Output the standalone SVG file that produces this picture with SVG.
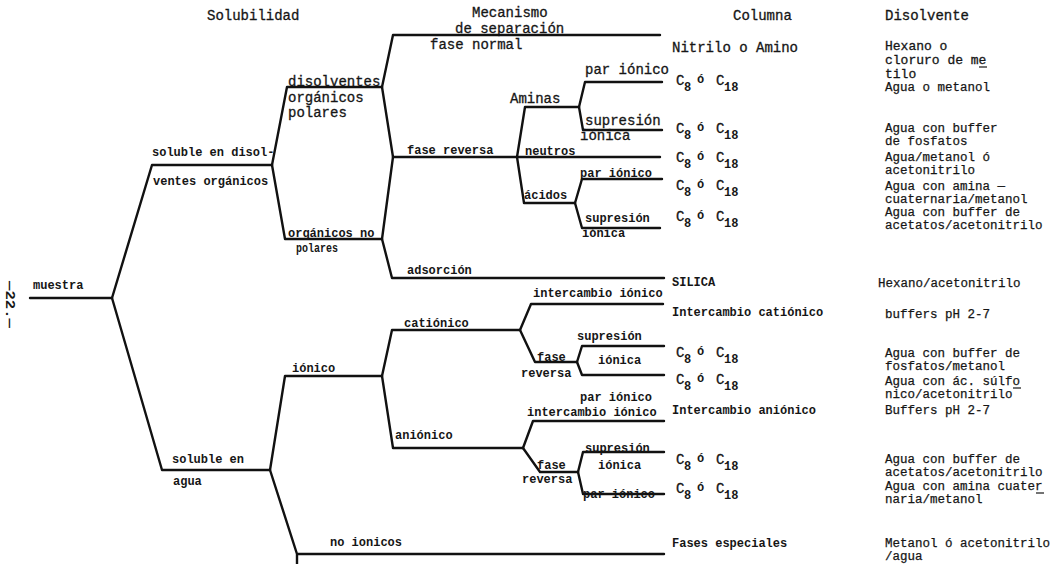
<svg xmlns="http://www.w3.org/2000/svg" width="1052" height="564" viewBox="0 0 1052 564">
  <style>
    text { font-family: "Liberation Mono", "DejaVu Sans Mono", monospace; fill: #161616; }
    .L { font-size: 14px; stroke: #161616; stroke-width: 0.3px; }
    .M { font-size: 13px; stroke: #161616; stroke-width: 0.3px; }
    .S { font-size: 12px; font-weight: bold; }
    .D { font-size: 12.5px; stroke: #161616; stroke-width: 0.25px; }
    .sub { font-size: 12px; font-weight: bold; }
    .edge { fill: none; stroke: #111; stroke-width: 2.4; stroke-linecap: round; stroke-linejoin: round; }
    .mark { stroke: #161616; stroke-width: 1.2; }
  </style>
  <defs>
    <!-- stationary phase "C8 ó C18", origin on the baseline of the first C -->
    <g id="c8c18">
      <text class="L" x="0" y="0">C</text>
      <text class="sub" x="8" y="6">8</text>
      <text class="sub" x="21" y="-2">ó</text>
      <text class="L" x="40" y="0">C</text>
      <text class="sub" x="48" y="6">18</text>
    </g>
  </defs>
  <rect width="1052" height="564" fill="#fff"/>

  <!-- page number -->
  <text class="S" transform="translate(6,281) rotate(90)" textLength="47" lengthAdjust="spacingAndGlyphs">—22.—</text>

  <!-- column headings -->
  <g id="headings">
    <text class="L" x="207" y="20">Solubilidad</text>
    <text class="L" x="472" y="17">Mecanismo</text>
    <text class="L" x="455" y="33">de separación</text>
    <text class="L" x="733" y="20">Columna</text>
    <text class="L" x="885" y="20">Disolvente</text>
  </g>

  <!-- branches of the tree -->
  <g id="connectors">
    <path class="edge" d="M30,298 H112"/>
    <path class="edge" d="M112,298 L152,165 H272"/>
    <path class="edge" d="M112,298 L162,470 H270"/>
    <path class="edge" d="M272,165 L287,87 H382"/>
    <path class="edge" d="M272,165 L285,239 H382"/>
    <path class="edge" d="M382,87 L393,35 H660"/>
    <path class="edge" d="M382,87 L393,157 H517"/>
    <path class="edge" d="M382,239 L393,157"/>
    <path class="edge" d="M382,239 L392,278 H664"/>
    <path class="edge" d="M517,157 L525,107 H579"/>
    <path class="edge" d="M517,157 H660"/>
    <path class="edge" d="M517,157 L524,203 H575"/>
    <path class="edge" d="M579,107 L585,82 H662"/>
    <path class="edge" d="M579,107 L583,130 H662"/>
    <path class="edge" d="M575,203 L582,179 H662"/>
    <path class="edge" d="M575,203 L582,228 H660"/>
    <path class="edge" d="M270,470 L285,376 H382"/>
    <path class="edge" d="M382,376 L392,330 H520"/>
    <path class="edge" d="M382,376 L393,448 H523"/>
    <path class="edge" d="M520,330 L531,304 H663"/>
    <path class="edge" d="M520,330 L535,362 H577"/>
    <path class="edge" d="M577,362 L582,346 H664"/>
    <path class="edge" d="M577,362 L582,375 H664"/>
    <path class="edge" d="M523,448 L533,421 H664"/>
    <path class="edge" d="M523,448 L540,472 H578"/>
    <path class="edge" d="M578,472 L583,452 H664"/>
    <path class="edge" d="M578,472 L583,494 H664"/>
    <path class="edge" d="M270,470 L297,554 H664 M297,554 V566"/>
  </g>

  <!-- solubility -->
  <g id="muestra"><text class="S" x="33" y="289">muestra</text></g>
  <g id="soluble-organicos">
    <text class="S" x="152" y="156">soluble en disol-</text>
    <text class="S" x="153" y="185">ventes orgánicos</text>
  </g>
  <g id="soluble-agua">
    <text class="S" x="172" y="463">soluble en</text>
    <text class="S" x="173" y="485">agua</text>
  </g>
  <g id="polares">
    <text class="L" x="288" y="86">disolventes</text>
    <text class="L" x="288" y="102">orgánicos</text>
    <text class="L" x="288" y="117">polares</text>
  </g>
  <g id="no-polares">
    <text class="S" x="288" y="237">orgánicos no</text>
    <text class="S" x="296" y="252" textLength="42" lengthAdjust="spacingAndGlyphs">polares</text>
  </g>
  <g id="ionico"><text class="S" x="292" y="372">iónico</text></g>
  <g id="no-ionicos"><text class="S" x="330" y="546">no ionicos</text></g>

  <!-- separation mechanism -->
  <g id="fase-normal"><text class="L" x="430" y="49">fase normal</text></g>
  <g id="fase-reversa"><text class="S" x="407" y="154">fase reversa</text></g>
  <g id="adsorcion"><text class="S" x="407" y="274">adsorción</text></g>
  <g id="aminas"><text class="L" x="510" y="103">Aminas</text></g>
  <g id="neutros"><text class="S" x="525" y="155">neutros</text></g>
  <g id="acidos"><text class="S" x="524" y="199">ácidos</text></g>
  <g id="aminas-par"><text class="L" x="585" y="74">par iónico</text></g>
  <g id="aminas-supresion">
    <text class="L" x="585" y="125">supresión</text>
    <text class="L" x="580" y="140">iónica</text>
  </g>
  <g id="acidos-par"><text class="S" x="580" y="177">par iónico</text></g>
  <g id="acidos-supresion">
    <text class="S" x="585" y="222">supresión</text>
    <text class="S" x="582" y="237">iónica</text>
  </g>
  <g id="cationico"><text class="S" x="404" y="327">catiónico</text></g>
  <g id="cat-intercambio"><text class="S" x="533" y="297">intercambio iónico</text></g>
  <g id="cat-fase-reversa">
    <text class="S" x="537" y="361">fase</text>
    <text class="S" x="521" y="377">reversa</text>
  </g>
  <g id="cat-supresion">
    <text class="S" x="577" y="340">supresión</text>
    <text class="S" x="598" y="364">iónica</text>
  </g>
  <g id="cat-par"><text class="S" x="580" y="401">par iónico</text></g>
  <g id="anionico"><text class="S" x="395" y="439">aniónico</text></g>
  <g id="an-intercambio"><text class="S" x="527" y="416">intercambio iónico</text></g>
  <g id="an-fase-reversa">
    <text class="S" x="537" y="469">fase</text>
    <text class="S" x="522" y="483">reversa</text>
  </g>
  <g id="an-supresion">
    <text class="S" x="585" y="452">supresión</text>
    <text class="S" x="598" y="469">iónica</text>
  </g>
  <g id="an-par"><text class="S" x="583" y="498">par iónico</text></g>

  <!-- column -->
  <g id="col-nitrilo"><text class="L" x="672" y="52">Nitrilo o Amino</text></g>
  <g id="col-a"><use href="#c8c18" x="676" y="85"/></g>
  <g id="col-b"><use href="#c8c18" x="676" y="133"/></g>
  <g id="col-c"><use href="#c8c18" x="676" y="162"/></g>
  <g id="col-d"><use href="#c8c18" x="676" y="190"/></g>
  <g id="col-e"><use href="#c8c18" x="676" y="221"/></g>
  <g id="col-silica"><text class="S" x="672" y="286">SILICA</text></g>
  <g id="col-cationico"><text class="S" x="672" y="316">Intercambio catiónico</text></g>
  <g id="col-f"><use href="#c8c18" x="676" y="357"/></g>
  <g id="col-g"><use href="#c8c18" x="676" y="384"/></g>
  <g id="col-anionico"><text class="S" x="672" y="414">Intercambio aniónico</text></g>
  <g id="col-h"><use href="#c8c18" x="676" y="464"/></g>
  <g id="col-i"><use href="#c8c18" x="676" y="493"/></g>
  <g id="col-especiales"><text class="S" x="672" y="547">Fases especiales</text></g>

  <!-- solvent -->
  <g id="sol-hexano">
    <text class="M" x="885" y="50">Hexano o</text>
    <text class="M" x="885" y="64">cloruro de me</text>
    <line class="mark" x1="979" y1="67" x2="987" y2="67"/>
    <text class="M" x="885" y="78">tilo</text>
  </g>
  <g id="sol-a"><text class="D" x="885" y="91">Agua o metanol</text></g>
  <g id="sol-b">
    <text class="D" x="885" y="132">Agua con buffer</text>
    <text class="D" x="885" y="145">de fosfatos</text>
  </g>
  <g id="sol-c">
    <text class="D" x="885" y="161">Agua/metanol ó</text>
    <text class="D" x="885" y="174">acetonitrilo</text>
  </g>
  <g id="sol-d">
    <text class="D" x="885" y="190">Agua con amina —</text>
    <text class="D" x="885" y="203">cuaternaria/metanol</text>
  </g>
  <g id="sol-e">
    <text class="D" x="885" y="216">Agua con buffer de</text>
    <text class="D" x="885" y="229">acetatos/acetonitrilo</text>
  </g>
  <g id="sol-silica"><text class="D" x="878" y="287">Hexano/acetonitrilo</text></g>
  <g id="sol-cationico"><text class="D" x="885" y="318">buffers pH 2-7</text></g>
  <g id="sol-f">
    <text class="D" x="885" y="357">Agua con buffer de</text>
    <text class="D" x="885" y="370">fosfatos/metanol</text>
  </g>
  <g id="sol-g">
    <text class="D" x="885" y="385">Agua con ác. súlfo</text>
    <line class="mark" x1="1013" y1="388" x2="1021" y2="388"/>
    <text class="D" x="885" y="398">nico/acetonitrilo</text>
  </g>
  <g id="sol-anionico"><text class="D" x="885" y="414">Buffers pH 2-7</text></g>
  <g id="sol-h">
    <text class="D" x="885" y="463">Agua con buffer de</text>
    <text class="D" x="885" y="476">acetatos/acetonitrilo</text>
  </g>
  <g id="sol-i">
    <text class="D" x="885" y="490">Agua con amina cuater</text>
    <line class="mark" x1="1036" y1="493" x2="1044" y2="493"/>
    <text class="D" x="885" y="503">naria/metanol</text>
  </g>
  <g id="sol-especiales">
    <text class="D" x="885" y="547">Metanol ó acetonitrilo</text>
    <text class="D" x="885" y="560">/agua</text>
  </g>
</svg>
